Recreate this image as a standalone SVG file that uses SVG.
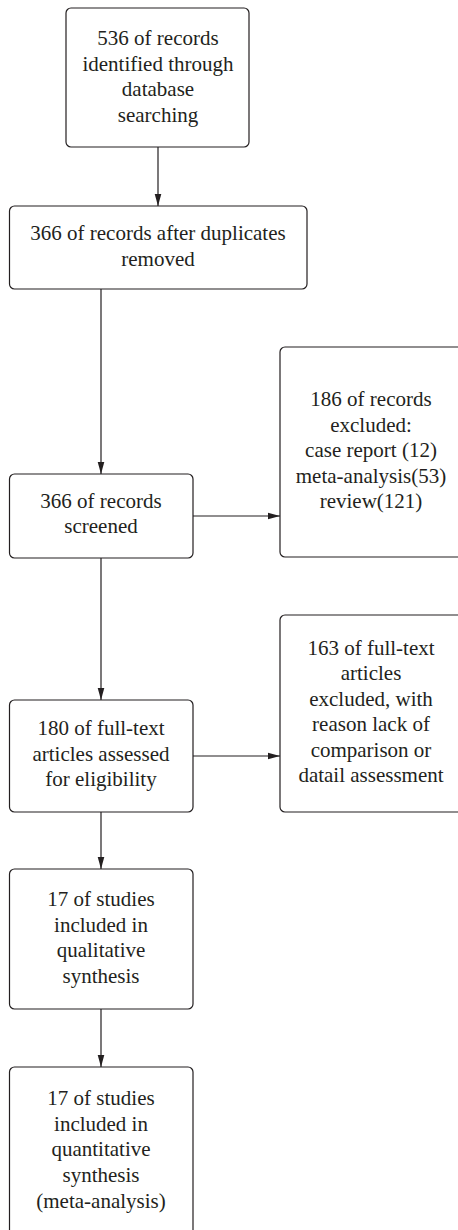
<svg xmlns="http://www.w3.org/2000/svg" width="458" height="1230" viewBox="0 0 458 1230">
<style>
.box{fill:#fff;stroke:#231f20;stroke-width:1.2}
.t{font-family:"Liberation Serif",serif;font-size:21px;fill:#231f20;text-anchor:middle}
.c{stroke:#231f20;stroke-width:1.2;fill:none}
</style>
<defs>
<marker id="ah" viewBox="0 0 12 10" refX="12" refY="5" markerWidth="12" markerHeight="10" markerUnits="userSpaceOnUse" orient="auto">
<path d="M0,1.7 L12,5 L0,8.3 z" fill="#231f20"/>
</marker>
</defs>
<rect width="458" height="1230" fill="#fff"/>
<g id="connectors">
<line class="c" x1="158" y1="147" x2="158" y2="206" marker-end="url(#ah)"/>
<line class="c" x1="101" y1="289" x2="101" y2="474" marker-end="url(#ah)"/>
<line class="c" x1="193" y1="516" x2="280" y2="516" marker-end="url(#ah)"/>
<line class="c" x1="101" y1="558" x2="101" y2="700" marker-end="url(#ah)"/>
<line class="c" x1="193" y1="756" x2="280" y2="756" marker-end="url(#ah)"/>
<line class="c" x1="101" y1="812" x2="101" y2="869" marker-end="url(#ah)"/>
<line class="c" x1="101" y1="1009" x2="101" y2="1067" marker-end="url(#ah)"/>
</g>
<g id="n1">
<rect class="box" x="66" y="8" width="183" height="139" rx="5"/>
<text class="t" x="158" y="45">536 of records</text>
<text class="t" x="158" y="70.5">identified through</text>
<text class="t" x="158" y="96">database</text>
<text class="t" x="158" y="121.5">searching</text>
</g>
<g id="n2">
<rect class="box" x="9.5" y="206" width="297.5" height="83" rx="5"/>
<text class="t" x="158" y="240">366 of records after duplicates</text>
<text class="t" x="158" y="266">removed</text>
</g>
<g id="n3">
<rect class="box" x="9.5" y="474" width="183.5" height="84" rx="5"/>
<text class="t" x="101" y="508">366 of records</text>
<text class="t" x="101" y="533">screened</text>
</g>
<g id="n4">
<rect class="box" x="280" y="347" width="190" height="210" rx="5"/>
<text class="t" x="371" y="406">186 of records</text>
<text class="t" x="371" y="432">excluded:</text>
<text class="t" x="371" y="457">case report (12)</text>
<text class="t" x="371" y="483">meta-analysis(53)</text>
<text class="t" x="371" y="508">review(121)</text>
</g>
<g id="n5">
<rect class="box" x="9.5" y="700" width="183.5" height="112" rx="5"/>
<text class="t" x="101" y="735">180 of full-text</text>
<text class="t" x="101" y="760.5">articles assessed</text>
<text class="t" x="101" y="786">for eligibility</text>
</g>
<g id="n6">
<rect class="box" x="280" y="615" width="190" height="197" rx="5"/>
<text class="t" x="371" y="655">163 of full-text</text>
<text class="t" x="371" y="680">articles</text>
<text class="t" x="371" y="706">excluded, with</text>
<text class="t" x="371" y="731">reason lack of</text>
<text class="t" x="371" y="757">comparison or</text>
<text class="t" x="371" y="782">datail assessment</text>
</g>
<g id="n7">
<rect class="box" x="9.5" y="869" width="183.5" height="140" rx="5"/>
<text class="t" x="101" y="906">17 of studies</text>
<text class="t" x="101" y="932">included in</text>
<text class="t" x="101" y="957">qualitative</text>
<text class="t" x="101" y="983">synthesis</text>
</g>
<g id="n8">
<rect class="box" x="9.5" y="1067" width="183.5" height="180" rx="5"/>
<text class="t" x="101" y="1105">17 of studies</text>
<text class="t" x="101" y="1131">included in</text>
<text class="t" x="101" y="1156">quantitative</text>
<text class="t" x="101" y="1182">synthesis</text>
<text class="t" x="101" y="1208">(meta-analysis)</text>
</g>
</svg>
